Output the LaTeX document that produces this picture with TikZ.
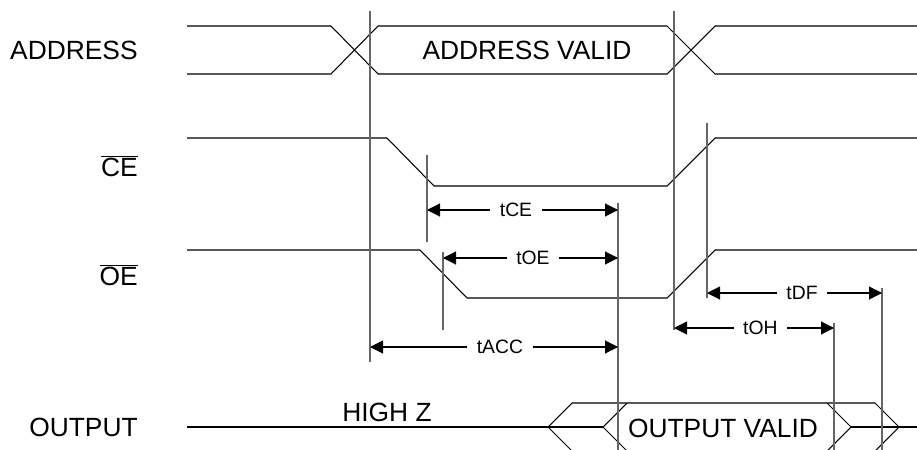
\documentclass[tikz,border=0pt]{standalone}
\usepackage{fontspec}
\setmainfont{Liberation Sans}
\usetikzlibrary{arrows.meta,positioning,calc}
\tikzset{
  wave/.style={line width=0.6pt,black},
  guide/.style={line width=0.6pt,black!60},
  dim/.style={line width=0.6pt,
    {Triangle[length=7.4pt,width=7.4pt]}-{Triangle[length=7.4pt,width=7.4pt]}},
  dimlabel/.style={fill=white,inner xsep=5.5pt,inner ysep=1pt,
    font=\fontsize{11}{13}\selectfont},
  signame/.style={anchor=east,inner sep=0pt,font=\fontsize{15}{18}\selectfont},
  buslabel/.style={inner sep=0pt,font=\fontsize{15}{18}\selectfont}
}

\begin{document}
\begin{tikzpicture}[x=0.02cm,y=-0.02cm]
  \useasboundingbox (0,0) rectangle (917,450);

  % signal names
  \node [signame] (addr) at (138,50) {ADDRESS};
  \node [signame] (ce) at (138,166) {$\overline{\hbox{CE}}$};
  \node [signame] (oe) at (138,275) {$\overline{\hbox{OE}}$};
  \node [signame] (out) at (138,427) {OUTPUT};

  % address bus
  \draw [wave] (187,26) -- (331,26) -- (378,74) -- (667,74) -- (715,26) -- (917,26);
  \draw [wave] (187,74) -- (331,74) -- (378,26) -- (667,26) -- (715,74) -- (917,74);
  \node [buslabel] (addrvalid) at (527,50) {ADDRESS VALID};

  % CE and OE
  \draw [wave] (187,138) -- (387,138) -- (434,186) -- (667,186) -- (715,138) -- (917,138);
  \draw [wave] (187,250) -- (420,250) -- (467,298) -- (667,298) -- (715,250) -- (917,250);

  % output
  \draw [wave] (187,427) -- (603,427);
  \draw [wave] (851,427) -- (917,427);
  \draw [wave] (572,451) -- (548,427) -- (572,403) -- (875,403) -- (899,427) -- (875,451) -- cycle;
  \draw [wave] (627,451) -- (603,427) -- (627,403);
  \draw [wave] (827,403) -- (851,427) -- (827,451);
  \node [buslabel] (highz) at (387,412) {HIGH Z};
  \node [buslabel] (outvalid) at (723,428) {OUTPUT VALID};

  % guide lines
  \draw [guide] (370,11) -- (370,362);
  \draw [guide] (674,11) -- (674,330);
  \draw [guide] (427,155) -- (427,242);
  \draw [guide] (443,252) -- (443,330);
  \draw [guide] (707,123) -- (707,298);
  \draw [guide] (618,203) -- (618,450);
  \draw [guide] (834,323) -- (834,450);
  \draw [guide] (882,288) -- (882,450);

  % timing arrows
  \coordinate (ce0) at (427,210);  \coordinate (ce1) at (618,210);
  \coordinate (oe0) at (443,258);  \coordinate (oe1) at (618,258);
  \coordinate (df0) at (707,293);  \coordinate (df1) at (882,293);
  \coordinate (oh0) at (674,328);  \coordinate (oh1) at (834,328);
  \coordinate (acc0) at (370,347); \coordinate (acc1) at (618,347);

  \draw [dim] (ce0) -- node [dimlabel,pos=0.466] (tce) {tCE} (ce1);
  \draw [dim] (oe0) -- node [dimlabel,pos=0.514] (toe) {tOE} (oe1);
  \draw [dim] (df0) -- node [dimlabel,pos=0.543] (tdf) {tDF} (df1);
  \draw [dim] (oh0) -- node [dimlabel,pos=0.54] (toh) {tOH} (oh1);
  \draw [dim] (acc0) -- node [dimlabel,pos=0.524] (tacc) {tACC} (acc1);
\end{tikzpicture}
\end{document}
